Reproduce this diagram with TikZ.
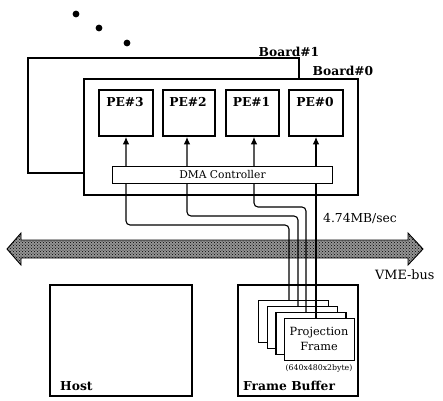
\documentclass[tikz,border=0pt]{standalone}
\usepackage{fontspec}
\setmainfont{DejaVu Serif}
\usetikzlibrary{arrows.meta,patterns}
\begin{document}
\begin{tikzpicture}[x=1pt,y=-1pt,
  box/.style={draw, line width=1.9pt, fill=white, inner sep=0pt, anchor=north west},
  framebox/.style={draw, line width=1.2pt, fill=white, inner sep=0pt, anchor=north west, minimum width=70pt, minimum height=42pt},
  thinbox/.style={draw, line width=0.9pt, fill=white, inner sep=0pt, anchor=north west},
  bl/.style={font=\fontsize{12.3}{14}\selectfont\bfseries, inner sep=0pt},
  rl/.style={font=\fontsize{12.3}{14}\selectfont, inner sep=0pt},
  conn/.style={line width=1.1pt, rounded corners=4pt},
  tip/.style={-{Latex[length=7.5pt,width=6.5pt]}}
]
\useasboundingbox (0,0) rectangle (443,400);

% dots
\fill (76,14) circle[radius=3.4pt];
\fill (99,28) circle[radius=3.4pt];
\fill (127,43) circle[radius=3.4pt];

% boards
\node[box, line width=1.7pt, minimum width=271pt, minimum height=115pt] (b1) at (27,57) {};
\node[bl, anchor=base] (b1l) at (289,56) {Board\#1};
\node[box, minimum width=274pt, minimum height=116pt] (b0) at (83,78) {};
\node[bl, anchor=base] (b0l) at (343,75) {Board\#0};

% PEs
\node[box, minimum width=54pt, minimum height=46pt] (pe3) at (98,89) {};
\node[box, minimum width=52pt, minimum height=46pt] (pe2) at (162,89) {};
\node[box, minimum width=53pt, minimum height=46pt] (pe1) at (225,89) {};
\node[box, minimum width=54pt, minimum height=46pt] (pe0) at (288,89) {};
\node[bl, anchor=base] (pe3l) at (125,106) {PE\#3};
\node[bl, anchor=base] (pe2l) at (188,106) {PE\#2};
\node[bl, anchor=base] (pe1l) at (251.5,106) {PE\#1};
\node[bl, anchor=base] (pe0l) at (315,106) {PE\#0};

% bus
\path[draw, line width=0.9pt, fill=black!42, postaction={pattern=crosshatch dots, pattern color=black}]
  (7,249) -- (21,233) -- (21,240) -- (408,240) -- (408,233) -- (423,249)
  -- (408,265) -- (408,258) -- (21,258) -- (21,265) -- cycle;

% host and frame buffer
\node[box, minimum width=142pt, minimum height=111pt] (host) at (49,284) {};
\node[bl, anchor=base west] (hostl) at (60,390) {Host};
\node[box, minimum width=120pt, minimum height=111pt] (fb) at (237,284) {};
\node[bl, anchor=base west] (fbl) at (243,390) {Frame Buffer};

% projection frames
\node[framebox] (fr1) at (258,300) {};
\node[framebox] (fr2) at (266.7,306) {};
\node[framebox] (fr3) at (275.3,312) {};
\node[framebox] (fr4) at (284,318) {};
\node[rl, font=\fontsize{11.3}{15}\selectfont, align=center] (frl) at (319,339) {Projection\\Frame};
\node[inner sep=0pt, anchor=base, font=\fontsize{7.8}{9}\selectfont] (frs) at (319,370) {(640x480x2byte)};

% connectors
\coordinate (k1) at (289,225); \coordinate (j1) at (126,225);
\coordinate (k2) at (298,216); \coordinate (j2) at (187,216);
\coordinate (k3) at (306,207); \coordinate (j3) at (254,207);
\coordinate (j4) at (316,0);
\draw[conn,tip] (fr1.north -| k1) -- (k1) -- (j1) -- (pe3.south -| j1);
\draw[conn,tip] (fr2.north -| k2) -- (k2) -- (j2) -- (pe2.south -| j2);
\draw[conn,tip] (fr3.north -| k3) -- (k3) -- (j3) -- (pe1.south -| j3);
\draw[conn,tip] (fr4.north -| j4) -- (pe0.south -| j4);

% DMA controller
\node[thinbox, minimum width=220pt, minimum height=17pt] (dma) at (112,166) {};
\node[rl, font=\fontsize{10.7}{12}\selectfont] (dmal) at (dma.center) {DMA Controller};

% labels
\node[rl, anchor=base west] (rate) at (323,222) {4.74MB/sec};
\node[rl, font=\fontsize{12.8}{14}\selectfont, anchor=base west] (vme) at (375,279) {VME-bus};
\end{tikzpicture}
\end{document}
